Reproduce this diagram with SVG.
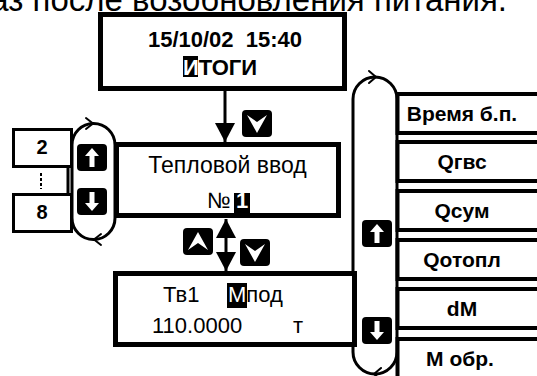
<svg xmlns="http://www.w3.org/2000/svg" xmlns:xlink="http://www.w3.org/1999/xlink" width="537" height="376" viewBox="0 0 537 376">
<style>
.t{font-family:"Liberation Sans",Arial,sans-serif;fill:#000}
.b{font-weight:bold}
.box{fill:#fff;stroke:#000;stroke-width:5}
.sbox{fill:#fff;stroke:#000;stroke-width:3}
.rbox{fill:#fff;stroke:#000;stroke-width:4}
.oval{fill:none;stroke:#000;stroke-width:3}
.chev{fill:none;stroke:#000;stroke-width:2;stroke-linecap:round;stroke-linejoin:round}
.conn{fill:none;stroke:#000;stroke-width:3}
.w{fill:#fff}
</style>
<defs>
<marker id="ah" viewBox="0 0 19 20" refX="19" refY="10" markerWidth="19" markerHeight="20" markerUnits="userSpaceOnUse" orient="auto-start-reverse">
<path d="M0,0 L19,10 L0,20 Z" fill="#000"/>
</marker>
<g id="bUp"><rect width="30" height="27" rx="4" fill="#000"/><polygon class="w" points="15,4 22,12 17.5,12 17.5,23 12.5,23 12.5,12 8,12"/></g>
<g id="bDown"><rect width="30" height="27" rx="4" fill="#000"/><polygon class="w" points="15,23 22,15 17.5,15 17.5,4 12.5,4 12.5,15 8,15"/></g>
<g id="bChevDown"><rect width="30" height="27" rx="4" fill="#000"/><polygon class="w" points="5,5 15,12 25,5 15,23"/></g>
<g id="bChevUp"><rect width="30" height="27" rx="4" fill="#000"/><polygon class="w" points="5,22 15,15 25,22 15,4"/></g>
</defs>

<text class="t" x="507" y="11" font-size="33" text-anchor="end">аз после возобновления питания.</text>

<g id="connectors">
<line class="conn" x1="225" y1="91" x2="225" y2="142" marker-end="url(#ah)"/>
<line class="conn" x1="226" y1="219" x2="226" y2="271" marker-start="url(#ah)" marker-end="url(#ah)"/>
<line class="conn" x1="68" y1="166" x2="68" y2="194"/>
<line x1="41" y1="173" x2="41" y2="189" stroke="#000" stroke-width="2" stroke-dasharray="3,2"/>
</g>

<g id="loop-left">
<path class="oval" d="M72,218 V145 A21.5,21.5 0 0 1 115,145 V218 A21.5,21.5 0 0 1 72,218 Z"/>
<path class="chev" d="M86,118 L93,123.5 L86,129"/>
<path class="chev" d="M101,234 L94,239.5 L101,245"/>
</g>

<g id="loop-right">
<path class="oval" d="M353,352 V99 A22,22 0 0 1 397,99 V352 A22,22 0 0 1 353,352 Z"/>
<path class="chev" d="M369,71 L376,77 L369,83"/>
<path class="chev" d="M381,368 L374,374 L381,380"/>
</g>

<g id="node-itogi">
<rect class="box" x="100.5" y="14.5" width="244" height="74"/>
<text class="t b" x="225" y="47" font-size="22" text-anchor="middle">15/10/02&#160; 15:40</text>
<rect x="183" y="56" width="15" height="21" fill="#000"/>
<text class="t b" x="183" y="75" font-size="22"><tspan class="w">И</tspan>ТОГИ</text>
</g>

<g id="node-vvod">
<rect class="box" x="116.5" y="144.5" width="222" height="71"/>
<text class="t" x="227.5" y="173" font-size="23" text-anchor="middle">Тепловой ввод</text>
<rect x="234" y="193" width="16" height="20" fill="#000"/>
<text class="t" y="208" font-size="22"><tspan x="207">№</tspan><tspan x="236" class="w b">1</tspan></text>
</g>

<g id="node-tv1">
<rect class="box" x="115.5" y="273.5" width="239" height="71"/>
<rect x="227" y="283" width="20" height="25" fill="#000"/>
<text class="t" y="302" font-size="22"><tspan x="163">Тв1</tspan><tspan x="228" class="w">М</tspan><tspan>под</tspan></text>
<text class="t" y="333" font-size="22"><tspan x="152">110.0000</tspan><tspan x="293">т</tspan></text>
</g>

<g id="node-2">
<rect class="sbox" x="13.5" y="129.5" width="58" height="37"/>
<text class="t b" x="42" y="154" font-size="20" text-anchor="middle">2</text>
</g>
<g id="node-8">
<rect class="sbox" x="13.5" y="194.5" width="58" height="37"/>
<text class="t b" x="42" y="219" font-size="20" text-anchor="middle">8</text>
</g>

<g id="menu">
<g id="m-time"><rect class="rbox" x="397.5" y="94" width="160" height="39"/><text class="t b" x="462" y="121" font-size="21" text-anchor="middle">Время б.п.</text></g>
<g id="m-qgvs"><rect class="rbox" x="397.5" y="142" width="160" height="39"/><text class="t b" x="462" y="169" font-size="21" text-anchor="middle">Qгвс</text></g>
<g id="m-qsum"><rect class="rbox" x="397.5" y="191" width="160" height="39"/><text class="t b" x="462" y="218" font-size="21" text-anchor="middle">Qсум</text></g>
<g id="m-qotopl"><rect class="rbox" x="397.5" y="240" width="160" height="39"/><text class="t b" x="462" y="267" font-size="21" text-anchor="middle">Qотопл</text></g>
<g id="m-dm"><rect class="rbox" x="397.5" y="289" width="160" height="39"/><text class="t b" x="462" y="316" font-size="21" text-anchor="middle">dM</text></g>
<g id="m-mobr"><rect class="rbox" x="397.5" y="339" width="160" height="50"/><text class="t b" x="460" y="366" font-size="21" text-anchor="middle">M обр.</text></g>
</g>

<g id="buttons">
<use xlink:href="#bChevDown" x="242" y="110"/>
<use xlink:href="#bUp" x="77" y="144"/>
<use xlink:href="#bDown" x="77" y="188"/>
<use xlink:href="#bChevUp" x="183" y="228"/>
<use xlink:href="#bChevDown" x="240" y="239"/>
<use xlink:href="#bUp" x="362" y="220"/>
<use xlink:href="#bDown" x="362" y="317"/>
</g>
</svg>
